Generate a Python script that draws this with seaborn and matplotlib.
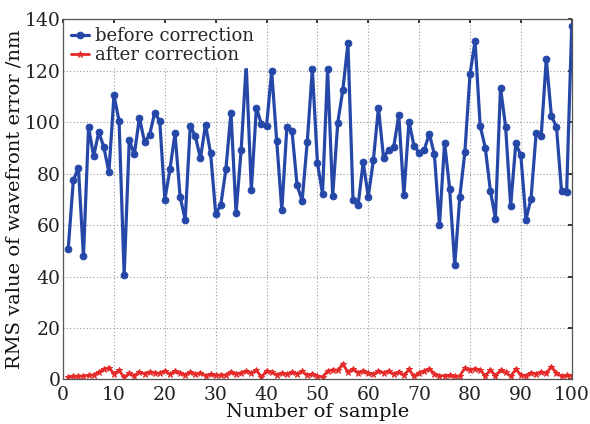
import matplotlib
matplotlib.use("Agg")
import matplotlib.pyplot as plt
import numpy as np
import pandas as pd
import seaborn as sns

# Sample index
samples = list(range(1, 101))

# RMS wavefront error before correction (nm)
before = [50.7, 77.3, 82.3, 47.8, 98.1, 86.7, 96.1, 90.3, 80.5, 110.4,
          100.4, 40.4, 93.0, 87.4, 101.7, 92.3, 94.9, 103.7, 100.3, 69.9,
          81.6, 95.6, 71.0, 62.1, 98.6, 94.4, 85.9, 99.0, 87.8, 64.4,
          67.8, 81.6, 103.7, 64.7, 89.0, 122.5, 73.5, 105.6, 99.1, 98.5,
          119.8, 92.6, 65.7, 98.2, 96.5, 75.4, 69.5, 92.3, 120.6, 84.2,
          72.2, 120.6, 71.2, 99.8, 112.5, 130.6, 69.9, 67.7, 84.4, 71.0,
          85.2, 105.6, 86.2, 89.1, 90.3, 102.7, 71.6, 100.2, 90.7, 88.1,
          89.1, 95.5, 87.4, 59.9, 92.0, 74.1, 44.3, 71.0, 88.5, 118.5,
          131.5, 98.5, 90.1, 73.4, 62.5, 113.4, 98.2, 67.3, 91.7, 87.1,
          62.1, 70.2, 95.6, 94.6, 124.5, 102.4, 98.1, 73.1, 72.7, 137.2]

# RMS wavefront error after correction (nm)
after = [1.0, 1.2, 1.3, 1.4, 1.6, 1.8, 2.8, 3.9, 4.6, 2.2,
         3.5, 0.8, 2.4, 1.5, 2.8, 2.3, 3.0, 2.6, 2.4, 3.4,
         2.0, 3.2, 2.5, 1.8, 2.8, 2.0, 2.6, 1.5, 2.0, 1.6,
         1.8, 1.7, 3.0, 2.2, 2.6, 3.3, 2.4, 3.6, 0.9, 3.4,
         2.8, 1.8, 2.5, 2.0, 2.8, 2.2, 3.1, 1.6, 2.2, 1.4,
         1.0, 3.2, 3.8, 3.6, 6.0, 2.8, 4.0, 2.7, 3.4, 2.5,
         2.0, 3.2, 2.6, 3.3, 2.0, 3.0, 1.6, 3.9, 1.2, 2.6,
         3.3, 4.2, 2.2, 1.4, 1.5, 1.6, 1.2, 1.4, 4.5, 3.8,
         4.2, 3.8, 1.4, 3.7, 1.5, 3.5, 2.8, 1.2, 4.0, 1.8,
         1.5, 2.6, 2.2, 3.0, 2.4, 5.0, 2.5, 1.3, 1.6, 1.5]

x_ticks = [0, 10, 20, 30, 40, 50, 60, 70, 80, 90, 100]
y_ticks = [0, 20, 40, 60, 80, 100, 120, 140]

sns.set_theme(style="white")
plt.rcParams["font.family"] = ["DejaVu Serif"]
plt.rcParams["mathtext.fontset"] = "dejavuserif"

fig = plt.figure(figsize=(5.9, 4.24), dpi=100)
ax = fig.add_axes([0.107, 0.105, 0.862, 0.850])

blue = "#2447a8"
red = "#e52a2a"

df_before = pd.DataFrame({"sample": samples, "rms": before})
df_after = pd.DataFrame({"sample": samples, "rms": after})

sns.lineplot(data=df_before, x="sample", y="rms", ax=ax, color=blue,
             linewidth=2.3, marker="o", markersize=4.8,
             markeredgecolor=blue, markerfacecolor=blue,
             label="before correction")
sns.lineplot(data=df_after, x="sample", y="rms", ax=ax, color=red,
             linewidth=2.0, marker="*", markersize=4.5,
             markeredgecolor=red, markerfacecolor=red,
             label="after correction")

ax.set_xlim(0, 100)
ax.set_ylim(0, 140)
ax.set_xticks(x_ticks)
ax.set_yticks(y_ticks)
ax.tick_params(axis="both", direction="in", length=3, labelsize=13.5,
               colors="#222222", top=True, right=True)
ax.tick_params(axis="x", pad=5)
ax.tick_params(axis="y", pad=2)
ax.grid(True, linestyle=(0, (1, 2)), color="#9a9a9a", linewidth=0.8)
for side in ax.spines.values():
    side.set_color("#555555")
    side.set_linewidth(0.9)

ax.set_xlabel("Number of sample", fontsize=14, labelpad=-1, color="#111111")
ax.set_ylabel("RMS value of wavefront error /nm", fontsize=14, labelpad=1,
              color="#111111")

leg = ax.legend(loc="upper left", fontsize=13, frameon=True, fancybox=False,
                framealpha=1, edgecolor="white", handlelength=1.0,
                handletextpad=0.3, borderpad=0.15, labelspacing=0.05,
                borderaxespad=0.3)

fig.savefig("out.png", dpi=100)
